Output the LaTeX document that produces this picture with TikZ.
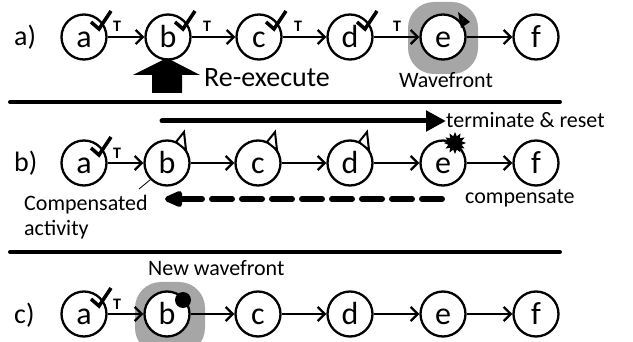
\documentclass[tikz,border=0pt]{standalone}
\usepackage{fontspec}
\setmainfont{Carlito}
\usetikzlibrary{arrows.meta,shapes.geometric,calc}
\definecolor{wfgray}{RGB}{166,166,166}
\begin{document}
\begin{tikzpicture}[x=1pt,y=-1pt,
  act/.style={circle,draw,fill=white,line width=2.3pt,minimum size=45pt,inner sep=0pt,
    font=\fontsize{32}{32}\selectfont,text height=21pt,text depth=0pt},
  flow/.style={line width=2.2pt,-{Straight Barb[length=7pt,width=14pt,line width=2.3pt]}},
  tlab/.style={font=\fontsize{16}{16}\selectfont\bfseries,inner sep=0pt},
  rowlab/.style={font=\fontsize{28}{28}\selectfont,anchor=base west,inner sep=0pt},
  txt/.style={font=\fontsize{22}{22}\selectfont,inner sep=0pt},
  checkm/.style={line width=3.5pt},
  sep/.style={line width=4pt,line cap=round},
  blob/.style={fill=wfgray,rounded corners=26pt,minimum width=70pt,minimum height=72pt,inner sep=0pt},
  hollowtri/.style={draw,fill=white,line width=2pt,line join=miter},
]
\clip (0,0) rectangle (633,342);

% ---------- row a ----------
\node[blob] (wf1) at (443,38) {};
\node[rowlab] (la) at (14,46) {a)};
\node[act] (a1) at (84,37) {a};
\node[act] (b1) at (168,37) {b};
\node[act] (c1) at (259,37) {c};
\node[act] (d1) at (350,37) {d};
\node[act] (e1) at (443,37) {e};
\node[act] (f1) at (536,37) {f};
\draw[flow] (a1) -- (b1);
\draw[flow] (b1) -- (c1);
\draw[flow] (c1) -- (d1);
\draw[flow] (d1) -- (e1);
\draw[flow] (e1) -- (f1);
\node[tlab] (t1) at (117,26) {T};
\node[tlab] (t2) at (207,26) {T};
\node[tlab] (t3) at (298,26) {T};
\node[tlab] (t4) at (397,26) {T};
\foreach \n in {a1,b1,c1,d1}{
  \draw[checkm] ($(\n.center)+(7,-15)$) -- ++(8,7) -- ++(12,-18);
}
\fill ($(e1.center)+(15,-25)$) -- ($(e1.center)+(27,-15)$) -- ($(e1.center)+(18,-9)$) -- cycle;
\fill (167,58) -- (200,75) -- (182,75) -- (182,93) -- (152,93) -- (152,75) -- (133,75) -- cycle;
\node[txt,anchor=base west,font=\fontsize{28}{28}\selectfont] (reex) at (204,87) {Re-execute};
\node[txt,anchor=base] (wft) at (446,88) {Wavefront};

\coordinate (s1l) at (10,102);
\coordinate (s1r) at (560,102);
\draw[sep] (s1l) -- (s1r);

% ---------- row b ----------
\node[txt,anchor=base west] (term) at (446,128) {terminate \& reset};
\coordinate (termS) at (162,121);
\draw[line width=5pt,line cap=round,-{Triangle[length=20pt,width=20pt]}] (termS) -- (term.west |- termS);

\node[rowlab] (lb) at (14,172) {b)};
\node[act] (a2) at (84,163) {a};
\node[act] (b2) at (167,163) {b};
\node[act] (c2) at (258,163) {c};
\node[act] (d2) at (350,163) {d};
\node[act] (e2) at (443,163) {e};
\node[act] (f2) at (536,163) {f};
\draw[flow] (a2) -- (b2);
\draw[flow] (b2) -- (c2);
\draw[flow] (c2) -- (d2);
\draw[flow] (d2) -- (e2);
\draw[flow] (e2) -- (f2);
\node[tlab] (t5) at (117,153) {T};
\draw[checkm] ($(a2.center)+(7,-15)$) -- ++(8,7) -- ++(12,-18);
\foreach \n in {b2,c2,d2}{
  \draw[hollowtri] ($(\n.center)+(17,-31)$) -- ($(\n.center)+(9,-21)$) -- ($(\n.center)+(19,-13)$) -- cycle;
}
\node[star,star points=12,star point ratio=1.6,fill=black,minimum size=22pt,inner sep=0pt] (burst) at ($(e2.center)+(12,-20)$) {};

\node[txt,anchor=base west] (comp) at (465,204) {compensate};
\coordinate (dashS) at (442,199);
\coordinate (dashE) at (165,199);
\draw[line width=6pt,line cap=round,dash pattern=on 20pt off 10pt,-{Triangle[length=22pt,width=17pt,round=false]}] (dashS) -- (dashE);

\node[txt,anchor=base west] (cact1) at (24,211) {Compensated};
\node[txt,anchor=base west] (cact2) at (24,236) {activity};
\coordinate (cline) at (139,189);
\draw[line width=0.8pt] (cline) -- (b2.225);

\coordinate (s2l) at (10,252);
\coordinate (s2r) at (560,252);
\draw[sep] (s2l) -- (s2r);

% ---------- row c ----------
\node[txt,anchor=base west] (nwf) at (148,276) {New wavefront};
\node[blob] (wf2) at (170,318) {};
\node[rowlab] (lc) at (14,324) {c)};
\node[act] (a3) at (84,314) {a};
\node[act] (b3) at (167,314) {b};
\node[act] (c3) at (258,314) {c};
\node[act] (d3) at (350,314) {d};
\node[act] (e3) at (443,314) {e};
\node[act] (f3) at (536,314) {f};
\draw[flow] (a3) -- (b3);
\draw[flow] (b3) -- (c3);
\draw[flow] (c3) -- (d3);
\draw[flow] (d3) -- (e3);
\draw[flow] (e3) -- (f3);
\node[tlab] (t6) at (117,304) {T};
\draw[checkm] ($(a3.center)+(7,-15)$) -- ++(8,7) -- ++(12,-18);
\fill ($(b3.center)+(16,-14)$) circle (8pt);
\end{tikzpicture}
\end{document}
